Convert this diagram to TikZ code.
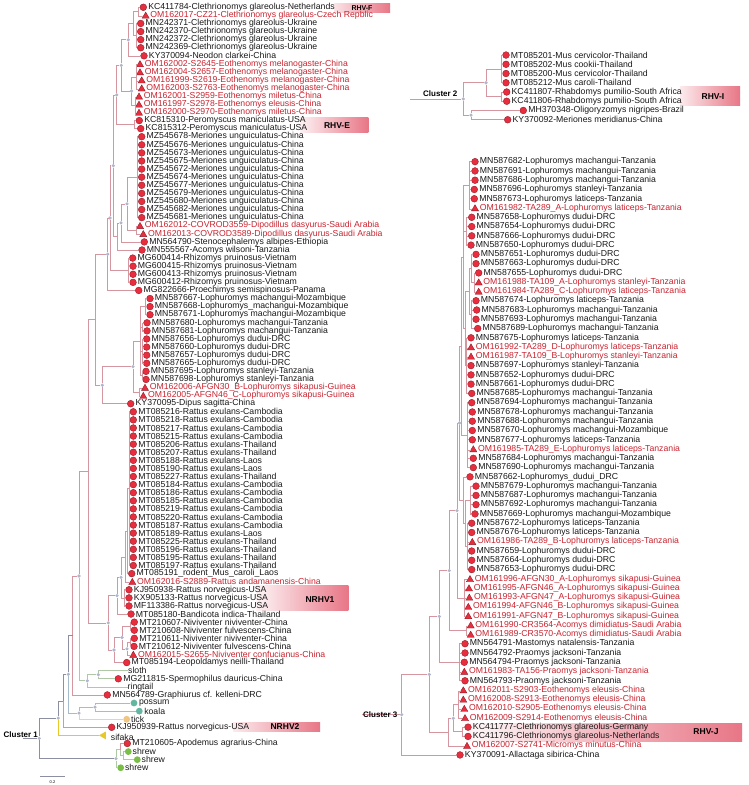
\documentclass[tikz,border=0pt]{standalone}
\usepackage{fontspec}
\setmainfont{Liberation Sans}
\usetikzlibrary{calc,shapes.geometric}
\definecolor{tipred}{RGB}{232,46,62}
\definecolor{tipedge}{RGB}{140,24,36}
\definecolor{newred}{RGB}{200,36,48}
\definecolor{brpink}{RGB}{214,150,160}
\definecolor{brgrey}{RGB}{140,142,162}
\definecolor{brblue}{RGB}{165,188,205}
\definecolor{brgreen}{RGB}{175,200,165}
\definecolor{brtan}{RGB}{238,210,165}
\definecolor{bryel}{RGB}{232,200,40}
\definecolor{dotgrey}{RGB}{178,182,205}
\definecolor{boxpink}{RGB}{232,118,134}
\definecolor{possumteal}{RGB}{100,182,160}
\definecolor{ticktan}{RGB}{240,196,130}
\definecolor{shrewgreen}{RGB}{122,190,72}
\def\rowstep{8.09}
\def\rowzero{-0.8}
% tips: name, x, row, label
\def\dtip#1#2#3#4{\node[reddot] (#1) at (#2,{\rowstep*#3+\rowzero}) {};
  \node[tiptext] (#1t) at ([xshift=1.2pt]#1.east) {#4};}
\def\ttip#1#2#3#4{\node[redtri] (#1) at (#2,{\rowstep*#3+\rowzero}) {};
  \node[tiptext,text=newred] (#1t) at ([xshift=2pt,yshift=0.8pt]#1.east) {#4};}
% inner node: style, name, x, first child, last child
\def\inode#1#2#3#4#5{\path let \p1=(#4), \p2=(#5) in node[#1] (#2) at (#3pt,{0.5*(\y1+\y2)}) {};}

\begin{document}
\begin{tikzpicture}[x=1pt,y=-1pt,
  reddot/.style={circle,draw=tipedge,fill=tipred,line width=0.35pt,inner sep=0pt,minimum size=6.8pt},
  redtri/.style={regular polygon,regular polygon sides=3,draw=tipedge,fill=tipred,line width=0.35pt,inner sep=0pt,minimum size=8.2pt,yshift=-0.8pt},
  otherdot/.style={circle,fill=#1,inner sep=0pt,minimum size=6.8pt},
  tiptext/.style={anchor=west,inner sep=0pt,text=black!90,font=\fontsize{8.7}{9}\selectfont},
  ndot/.style={circle,fill=dotgrey,inner sep=0pt,minimum size=3.6pt},
  pbr/.style={draw=brpink,line width=0.6pt},
  gbr/.style={draw=brgrey,line width=0.6pt},
  bbr/.style={draw=brblue,line width=0.6pt},
  grbr/.style={draw=brgreen,line width=0.6pt},
  hlab/.style={inner sep=0pt,font=\bfseries\fontsize{8.5}{9}\selectfont},
  clab/.style={anchor=base west,inner sep=0pt,font=\bfseries\fontsize{8}{9}\selectfont}]
\useasboundingbox (0,0) rectangle (748,785);

% highlighted groups
\shade[left color=boxpink!20,right color=boxpink] (334,3.5) rectangle (390,12.5);
\shade[left color=boxpink!10,right color=boxpink] (300,117.3) rectangle (368.3,132.7);
\shade[left color=boxpink!8,right color=boxpink] (256,585.7) rectangle (348.3,610);
\shade[left color=boxpink!15,right color=boxpink] (233,722.3) rectangle (320,731);
\shade[left color=boxpink!15,right color=boxpink] (680,86.7) rectangle (740,105.7);
\shade[left color=boxpink!5,right color=boxpink] (468,723) rectangle (742,741);
\node[hlab,font=\bfseries\fontsize{7}{8}\selectfont] (rhvf) at (362,8) {RHV-F};
\node[hlab] (rhve) at (337,125.5) {RHV-E};
\node[hlab] (nrhv1) at (320,599.5) {NRHV1};
\node[hlab] (nrhv2) at (285,727) {NRHV2};
\node[hlab] (rhvi) at (713,96.5) {RHV-I};
\node[hlab] (rhvj) at (706,732) {RHV-J};

% cluster 1
\dtip{l1}{143.3}{1}{KC411784-Clethrionomys glareolus-Netherlands}
\ttip{l2}{145.7}{2}{OM162017-CZ21-Clethrionomys glareolus-Czech Repblic}
\dtip{l3}{140.7}{3}{MN242371-Clethrionomys glareolus-Ukraine}
\dtip{l4}{140.7}{4}{MN242370-Clethrionomys glareolus-Ukraine}
\dtip{l5}{140.7}{5}{MN242372-Clethrionomys glareolus-Ukraine}
\dtip{l6}{140.7}{6}{MN242369-Clethrionomys glareolus-Ukraine}
\dtip{l7}{144}{7}{KY370094-Neodon clarkei-China}
\ttip{l8}{140}{8}{OM162002-S2645-Eothenomys melanogaster-China}
\ttip{l9}{140}{9}{OM162004-S2657-Eothenomys melanogaster-China}
\ttip{l10}{141.7}{10}{OM161999-S2619-Eothenomys melanogaster-China}
\ttip{l11}{141.7}{11}{OM162003-S2763-Eothenomys melanogaster-China}
\ttip{l12}{139}{12}{OM162001-S2959-Eothenomys miletus-China}
\ttip{l13}{139}{13}{OM161997-S2978-Eothenomys eleusis-China}
\ttip{l14}{139}{14}{OM162000-S2970-Eothenomys miletus-China}
\dtip{l15}{139.3}{15}{KC815310-Peromyscus maniculatus-USA}
\dtip{l16}{140.7}{16}{KC815312-Peromyscus maniculatus-USA}
\dtip{l17}{141.7}{17}{MZ545678-Meriones unguiculatus-China}
\dtip{l18}{141.7}{18}{MZ545676-Meriones unguiculatus-China}
\dtip{l19}{141.7}{19}{MZ545673-Meriones unguiculatus-China}
\dtip{l20}{141.7}{20}{MZ545675-Meriones unguiculatus-China}
\dtip{l21}{141.7}{21}{MZ545672-Meriones unguiculatus-China}
\dtip{l22}{141.7}{22}{MZ545674-Meriones unguiculatus-China}
\dtip{l23}{141.7}{23}{MZ545677-Meriones unguiculatus-China}
\dtip{l24}{141.7}{24}{MZ545679-Meriones unguiculatus-China}
\dtip{l25}{141.7}{25}{MZ545680-Meriones unguiculatus-China}
\dtip{l26}{141.7}{26}{MZ545682-Meriones unguiculatus-China}
\dtip{l27}{141.7}{27}{MZ545681-Meriones unguiculatus-China}
\ttip{l28}{140}{28}{OM162012-COVROD3559-Dipodillus dasyurus-Saudi Arabia}
\ttip{l29}{143.3}{29}{OM162013-COVROD3589-Dipodillus dasyurus-Saudi Arabia}
\dtip{l30}{144.3}{30}{MN564790-Stenocephalemys albipes-Ethiopia}
\dtip{l31}{142}{31}{MN555567-Acomys wilsoni-Tanzania}
\dtip{l32}{132.7}{32}{MG600414-Rhizomys pruinosus-Vietnam}
\dtip{l33}{133}{33}{MG600415-Rhizomys pruinosus-Vietnam}
\dtip{l34}{133}{34}{MG600413-Rhizomys pruinosus-Vietnam}
\dtip{l35}{133}{35}{MG600412-Rhizomys pruinosus-Vietnam}
\dtip{l36}{138.7}{36}{MG822666-Proechimys semispinosus-Panama}
\dtip{l37}{150}{37}{MN587667-Lophuromys machangui-Mozambique}
\dtip{l38}{150}{38}{MN587668-Lophuromys\_machangui-Mozambique}
\dtip{l39}{150}{39}{MN587671-Lophuromys machangui-Mozambique}
\dtip{l40}{147}{40}{MN587680-Lophuromys machangui-Tanzania}
\dtip{l41}{147}{41}{MN587681-Lophuromys machangui-Tanzania}
\dtip{l42}{146.7}{42}{MN587656-Lophuromys dudui-DRC}
\dtip{l43}{146.7}{43}{MN587660-Lophuromys dudui-DRC}
\dtip{l44}{146.7}{44}{MN587657-Lophuromys dudui-DRC}
\dtip{l45}{146.7}{45}{MN587665-Lophuromys dudui-DRC}
\dtip{l46}{146}{46}{MN587695-Lophuromys stanleyi-Tanzania}
\dtip{l47}{146}{47}{MN587698-Lophuromys stanleyi-Tanzania}
\ttip{l48}{145}{48}{OM162006-AFGN30\_B-Lophuromys sikapusi-Guinea}
\ttip{l49}{143.3}{49}{OM162005-AFGN46\_C-Lophuromys sikapusi-Guinea}
\dtip{l50}{130.7}{50}{KY370095-Dipus sagitta-China}
\dtip{l51}{133.3}{51}{MT085216-Rattus exulans-Cambodia}
\dtip{l52}{133.3}{52}{MT085218-Rattus exulans-Cambodia}
\dtip{l53}{133.3}{53}{MT085217-Rattus exulans-Cambodia}
\dtip{l54}{133.3}{54}{MT085215-Rattus exulans-Cambodia}
\dtip{l55}{133.3}{55}{MT085206-Rattus exulans-Thailand}
\dtip{l56}{133.3}{56}{MT085207-Rattus exulans-Thailand}
\dtip{l57}{133.3}{57}{MT085188-Rattus exulans-Laos}
\dtip{l58}{133.3}{58}{MT085190-Rattus exulans-Laos}
\dtip{l59}{133.3}{59}{MT085227-Rattus exulans-Thailand}
\dtip{l60}{133.3}{60}{MT085184-Rattus exulans-Cambodia}
\dtip{l61}{133.3}{61}{MT085186-Rattus exulans-Cambodia}
\dtip{l62}{133.3}{62}{MT085185-Rattus exulans-Cambodia}
\dtip{l63}{133.3}{63}{MT085219-Rattus exulans-Cambodia}
\dtip{l64}{133.3}{64}{MT085220-Rattus exulans-Cambodia}
\dtip{l65}{133.3}{65}{MT085187-Rattus exulans-Cambodia}
\dtip{l66}{133.3}{66}{MT085189-Rattus exulans-Laos}
\dtip{l67}{133.3}{67}{MT085225-Rattus exulans-Thailand}
\dtip{l68}{133.3}{68}{MT085196-Rattus exulans-Thailand}
\dtip{l69}{133.3}{69}{MT085195-Rattus exulans-Thailand}
\dtip{l70}{133.3}{70}{MT085197-Rattus exulans-Thailand}
\dtip{l71}{131.7}{71}{MT085191\_rodent\_Mus\_caroli\_Laos}
\ttip{l72}{132.3}{72}{OM162016-S2889-Rattus andamanensis-China}
\dtip{l73}{129}{73}{KJ950938-Rattus norvegicus-USA}
\dtip{l74}{129}{74}{KX905133-Rattus norvegicus-USA}
\dtip{l75}{129}{75}{MF113386-Rattus norvegicus-USA}
\dtip{l76}{131}{76}{MT085180-Bandicota indica-Thailand}
\dtip{l77}{134.3}{77}{MT210607-Niviventer niviventer-China}
\dtip{l78}{134.3}{78}{MT210608-Niviventer fulvescens-China}
\dtip{l79}{134.3}{79}{MT210611-Niviventer niviventer-China}
\dtip{l80}{134}{80}{MT210612-Niviventer fulvescens-China}
\ttip{l81}{133.3}{81}{OM162015-S2655-Niviventer confucianus-China}
\dtip{l82}{126.7}{82}{MT085194-Leopoldamys neilli-Thailand}
\coordinate (l83) at (128,{\rowstep*83+\rowzero});
\node[tiptext] (l83t) at (l83) {sloth};
\dtip{l84}{118.3}{84}{MG211815-Spermophilus dauricus-China}
\coordinate (l85) at (127.5,{\rowstep*85+\rowzero});
\node[tiptext] (l85t) at (l85) {ringtail};
\dtip{l86}{107.3}{86}{MN564789-Graphiurus cf. kelleni-DRC}
\node[otherdot=possumteal] (l87) at (134,{\rowstep*87+\rowzero}) {};
\node[tiptext] (l87t) at ([xshift=1.2pt]l87.east) {possum};
\node[otherdot=possumteal] (l88) at (139.3,{\rowstep*88+\rowzero}) {};
\node[tiptext] (l88t) at ([xshift=1.2pt]l88.east) {koala};
\node[otherdot=ticktan] (l89) at (126.7,{\rowstep*89+\rowzero}) {};
\node[tiptext] (l89t) at ([xshift=0.6pt]l89.east) {tick};
\dtip{l90}{111.7}{90}{KJ950939-Rattus norvegicus-USA}
\node[regular polygon,regular polygon sides=3,shape border rotate=90,fill=bryel,inner sep=0pt,minimum size=9pt] (l91) at (103.5,{\rowstep*91+\rowzero}) {};
\node[tiptext] (l91t) at (110.7,{\rowstep*91+\rowzero+2}) {sifaka};
\dtip{l92}{127.3}{92}{MT210605-Apodemus agrarius-China}
\node[otherdot=shrewgreen] (l93) at (128.3,{\rowstep*93+\rowzero}) {};
\node[tiptext] (l93t) at ([xshift=0.6pt]l93.east) {shrew};
\node[otherdot=shrewgreen] (l94) at (137.3,{\rowstep*94+\rowzero}) {};
\node[tiptext] (l94t) at ([xshift=0.6pt]l94.east) {shrew};
\node[otherdot=shrewgreen] (l95) at (120.7,{\rowstep*95+\rowzero}) {};
\node[tiptext] (l95t) at ([xshift=0.6pt]l95.east) {shrew};

\inode{coordinate}{a1}{138}{l1}{l2}
\inode{coordinate}{a2}{136}{l3}{l6}
\inode{coordinate}{a3}{133}{a1}{a2}
\inode{ndot}{a4}{128.3}{a3}{l7}
\inode{coordinate}{e1}{136}{l8}{l11}
\inode{coordinate}{e2}{135}{l12}{l14}
\inode{ndot}{e3}{131.5}{e1}{e2}
\inode{ndot}{b1}{121.3}{a4}{e3}
\inode{coordinate}{p1}{134.5}{l15}{l16}
\inode{ndot}{b2}{116.7}{b1}{p1}
\inode{coordinate}{m1}{137}{l17}{l27}
\inode{coordinate}{d1}{136}{l28}{l29}
\inode{ndot}{m2}{127}{m1}{d1}
\inode{ndot}{m3}{121}{m2}{l30}
\inode{coordinate}{m4}{117.7}{m3}{l31}
\inode{ndot}{c1}{113.3}{b2}{m4}
\inode{coordinate}{z1}{128.5}{l32}{l35}
\inode{ndot}{c2}{110}{c1}{z1}
\inode{ndot}{c3}{107.7}{c2}{l36}
\inode{coordinate}{f1}{145.5}{l37}{l39}
\inode{coordinate}{f2}{142.5}{l40}{l41}
\inode{coordinate}{f3}{142.5}{l42}{l45}
\inode{coordinate}{f4}{142}{l46}{l47}
\inode{coordinate}{f5}{140}{f1}{f4}
\inode{coordinate}{f6}{139}{l48}{l49}
\inode{ndot}{f7}{133}{f5}{f6}
\inode{ndot}{c4}{102.3}{f7}{l50}
\inode{coordinate}{c5}{95.7}{c3}{c4}
\inode{coordinate}{q1}{129}{l51}{l70}
\inode{coordinate}{q2}{127}{q1}{l71}
\inode{coordinate}{q3}{125}{q2}{l72}
\inode{coordinate}{q4}{124.5}{l73}{l75}
\inode{ndot}{q5}{121}{q3}{q4}
\inode{ndot}{q6}{117}{q5}{l76}
\inode{coordinate}{v1}{130}{l77}{l78}
\inode{coordinate}{v2}{130}{l79}{l80}
\inode{ndot}{v3}{127}{v2}{l81}
\inode{ndot}{v4}{122}{v1}{v3}
\inode{ndot}{v5}{114}{v4}{l82}
\inode{ndot}{q7}{108.3}{q6}{v5}
\inode{coordinate}{c6}{88}{c5}{q7}
\inode{ndot}{s1}{98.3}{l83}{l84}
\inode{ndot}{s2}{87.3}{s1}{l85}
\inode{ndot}{g0}{79}{c6}{s2}
\inode{coordinate}{gr}{72.7}{g0}{l86}
\inode{ndot}{t1}{95}{l87}{l88}
\inode{ndot}{t2}{79}{t1}{l89}
\inode{ndot}{g1}{68.3}{gr}{t2}
\inode{coordinate}{g2}{63.3}{g1}{l90}
\inode{ndot}{g3}{58.3}{g2}{l91}
\inode{coordinate}{h1}{123}{l93}{l94}
\inode{coordinate}{h2}{120}{l92}{h1}
\inode{ndot}{h3}{116}{h2}{l95}
\inode{ndot}{root1}{39.3}{g3}{h3}
\coordinate (stub1) at (root1 -| 23,0);

\draw[pbr] (a1) |- (l1) (a1) |- (l2) (a2) |- (l3) (a2) |- (l4) (a2) |- (l5) (a2) |- (l6)
  (a3) |- (a1) (a3) |- (a2) (a4) |- (a3) (a4) |- (l7);
\draw[pbr] (e1) |- (l8) (e1) |- (l9) (e1) |- (l10) (e1) |- (l11)
  (e2) |- (l12) (e2) |- (l13) (e2) |- (l14) (e3) |- (e1) (e3) |- (e2)
  (b1) |- (a4) (b1) |- (e3) (p1) |- (l15) (p1) |- (l16) (b2) |- (b1) (b2) |- (p1);
\draw[pbr] (m1) |- (l17) (m1) |- (l18) (m1) |- (l19) (m1) |- (l20) (m1) |- (l21) (m1) |- (l22)
  (m1) |- (l23) (m1) |- (l24) (m1) |- (l25) (m1) |- (l26) (m1) |- (l27)
  (d1) |- (l28) (d1) |- (l29) (m2) |- (m1) (m2) |- (d1) (m3) |- (m2) (m3) |- (l30)
  (m4) |- (m3) (m4) |- (l31) (c1) |- (b2) (c1) |- (m4);
\draw[pbr] (z1) |- (l32) (z1) |- (l33) (z1) |- (l34) (z1) |- (l35)
  (c2) |- (c1) (c2) |- (z1) (c3) |- (c2) (c3) |- (l36);
\draw[pbr] (f1) |- (l37) (f1) |- (l38) (f1) |- (l39) (f2) |- (l40) (f2) |- (l41)
  (f3) |- (l42) (f3) |- (l43) (f3) |- (l44) (f3) |- (l45) (f4) |- (l46) (f4) |- (l47)
  (f5) |- (f1) (f5) |- (f2) (f5) |- (f3) (f5) |- (f4) (f6) |- (l48) (f6) |- (l49)
  (f7) |- (f5) (f7) |- (f6) (c4) |- (f7) (c4) |- (l50) (c5) |- (c3) (c5) |- (c4);
\draw[pbr] (q1) |- (l51) (q1) |- (l52) (q1) |- (l53) (q1) |- (l54) (q1) |- (l55)
  (q1) |- (l56) (q1) |- (l57) (q1) |- (l58) (q1) |- (l59) (q1) |- (l60)
  (q1) |- (l61) (q1) |- (l62) (q1) |- (l63) (q1) |- (l64) (q1) |- (l65)
  (q1) |- (l66) (q1) |- (l67) (q1) |- (l68) (q1) |- (l69) (q1) |- (l70)
  (q2) |- (q1) (q2) |- (l71) (q3) |- (q2) (q3) |- (l72)
  (q4) |- (l73) (q4) |- (l74) (q4) |- (l75) (q5) |- (q3) (q5) |- (q4)
  (q6) |- (q5) (q6) |- (l76);
\draw[pbr] (v1) |- (l77) (v1) |- (l78) (v2) |- (l79) (v2) |- (l80) (v3) |- (v2) (v3) |- (l81)
  (v4) |- (v1) (v4) |- (v3) (v5) |- (v4) (v5) |- (l82) (q7) |- (q6) (q7) |- (v5)
  (c6) |- (c5) (c6) |- (q7) (g0) |- (c6) (gr) |- (g0) (gr) |- (l86) (g2) |- (l90) (h2) |- (l92);
\draw[grbr] (s1) |- (l83) (s1) |- (l84) (s2) |- (s1) (s2) |- (l85) (g0) |- (s2)
  (h1) |- (l93) (h1) |- (l94) (h2) |- (h1) (h3) |- (h2) (h3) |- (l95);
\draw[bbr] (t1) |- (l87) (t1) |- (l88) (t2) |- (t1) (g1) |- (t2);
\draw[draw=brtan,line width=0.6pt] (t2) |- (l89);
\draw[draw=bryel,line width=0.6pt] (g3) |- (l91);
\draw[gbr] (g1) |- (gr) (g2) |- (g1) (g3) |- (g2) (root1) |- (g3) (root1) |- (h3) (stub1) -- (root1);
\node[clab] (cl1) at (3.5,737) {Cluster 1};

% scale bar
\coordinate (sb1) at (40,776.7);
\coordinate (sb2) at (65,776.7);
\draw[brgrey,line width=0.5pt] (sb1) -- (sb2);
\node[inner sep=0pt,font=\fontsize{4}{4}\selectfont] (sbl) at (52.5,782.5) {0.2};

% cluster 2
\def\rowstep{9.24}
\def\rowzero{45.8}
\dtip{u1}{506}{1}{MT085201-Mus cervicolor-Thailand}
\dtip{u2}{506}{2}{MT085202-Mus cookii-Thailand}
\dtip{u3}{506}{3}{MT085200-Mus cervicolor-Thailand}
\dtip{u4}{506}{4}{MT085212-Mus caroli-Thailand}
\dtip{u5}{506.7}{5}{KC411807-Rhabdomys pumilio-South Africa}
\dtip{u6}{506.7}{6}{KC411806-Rhabdomys pumilio-South Africa}
\dtip{u7}{523.3}{7}{MH370348-Oligoryzomys nigripes-Brazil}
\dtip{u8}{507.7}{8}{KY370092-Meriones meridianus-China}
\inode{coordinate}{k1}{501.5}{u1}{u4}
\inode{coordinate}{k2}{501.5}{u5}{u6}
\inode{ndot}{k3}{486}{k1}{k2}
\inode{ndot}{k4}{471}{u7}{u8}
\inode{ndot}{k5}{463.3}{k3}{k4}
\coordinate (stub2) at (k5 -| 410,0);
\draw[pbr] (k1) |- (u1) (k1) |- (u2) (k1) |- (u3) (k1) |- (u4) (k2) |- (u5) (k2) |- (u6)
  (k3) |- (k1) (k3) |- (k2) (k4) |- (u7) (k4) |- (u8) (k5) |- (k3) (k5) |- (k4) (stub2) -- (k5);
\node[clab] (cl2) at (423,96) {Cluster 2};

% cluster 3
\def\rowstep{9.27}
\def\rowzero{152.4}
\dtip{r1}{475}{1}{MN587682-Lophuromys machangui-Tanzania}
\dtip{r2}{475}{2}{MN587691-Lophuromys machangui-Tanzania}
\dtip{r3}{475}{3}{MN587686-Lophuromys machangui-Tanzania}
\dtip{r4}{474.3}{4}{MN587696-Lophuromys stanleyi-Tanzania}
\dtip{r5}{474.3}{5}{MN587673-Lophuromys laticeps-Tanzania}
\ttip{r6}{475}{6}{OM161982-TA289\_A-Lophuromys laticeps-Tanzania}
\dtip{r7}{471.7}{7}{MN587658-Lophuromys dudui-DRC}
\dtip{r8}{471.7}{8}{MN587654-Lophuromys dudui-DRC}
\dtip{r9}{471.7}{9}{MN587666-Lophuromys dudui-DRC}
\dtip{r10}{471}{10}{MN587650-Lophuromys dudui-DRC}
\dtip{r11}{476}{11}{MN587651-Lophuromys dudui-DRC}
\dtip{r12}{476}{12}{MN587663-Lophuromys dudui-DRC}
\dtip{r13}{478.7}{13}{MN587655-Lophuromys dudui-DRC}
\ttip{r14}{478.7}{14}{OM161988-TA109\_A-Lophuromys stanleyi-Tanzania}
\ttip{r15}{478.7}{15}{OM161984-TA289\_C-Lophuromys laticeps-Tanzania}
\dtip{r16}{476}{16}{MN587674-Lophuromys laticeps-Tanzania}
\dtip{r17}{476.7}{17}{MN587683-Lophuromys machangui-Tanzania}
\dtip{r18}{476}{18}{MN587693-Lophuromys machangui-Tanzania}
\dtip{r19}{477.7}{19}{MN587689-Lophuromys machangui-Tanzania}
\dtip{r20}{471}{20}{MN587675-Lophuromys laticeps-Tanzania}
\ttip{r21}{471}{21}{OM161992-TA289\_D-Lophuromys laticeps-Tanzania}
\ttip{r22}{471}{22}{OM161987-TA109\_B-Lophuromys stanleyi-Tanzania}
\dtip{r23}{471}{23}{MN587697-Lophuromys stanleyi-Tanzania}
\dtip{r24}{471}{24}{MN587652-Lophuromys dudui-DRC}
\dtip{r25}{471}{25}{MN587661-Lophuromys dudui-DRC}
\dtip{r26}{471.7}{26}{MN587685-Lophuromys machangui-Tanzania}
\dtip{r27}{471.7}{27}{MN587694-Lophuromys machangui-Tanzania}
\dtip{r28}{472.3}{28}{MN587678-Lophuromys machangui-Tanzania}
\dtip{r29}{472.3}{29}{MN587688-Lophuromys machangui-Tanzania}
\dtip{r30}{472.3}{30}{MN587670-Lophuromys machangui-Mozambique}
\dtip{r31}{472.3}{31}{MN587677-Lophuromys laticeps-Tanzania}
\ttip{r32}{473.3}{32}{OM161985-TA289\_E-Lophuromys laticeps-Tanzania}
\dtip{r33}{473.3}{33}{MN587684-Lophuromys machangui-Tanzania}
\dtip{r34}{473.3}{34}{MN587690-Lophuromys machangui-Tanzania}
\dtip{r35}{470}{35}{MN587662-Lophuromys\_dudui\_DRC}
\dtip{r36}{476}{36}{MN587679-Lophuromys machangui-Tanzania}
\dtip{r37}{476}{37}{MN587687-Lophuromys machangui-Tanzania}
\dtip{r38}{476}{38}{MN587692-Lophuromys machangui-Tanzania}
\dtip{r39}{475}{39}{MN587669-Lophuromys machangui-Mozambique}
\dtip{r40}{471.7}{40}{MN587672-Lophuromys laticeps-Tanzania}
\dtip{r41}{471.7}{41}{MN587676-Lophuromys laticeps-Tanzania}
\ttip{r42}{472.3}{42}{OM161986-TA289\_B-Lophuromys laticeps-Tanzania}
\dtip{r43}{471.7}{43}{MN587659-Lophuromys dudui-DRC}
\dtip{r44}{471.7}{44}{MN587664-Lophuromys dudui-DRC}
\dtip{r45}{471.7}{45}{MN587653-Lophuromys dudui-DRC}
\ttip{r46}{470}{46}{OM161996-AFGN30\_A-Lophuromys sikapusi-Guinea}
\ttip{r47}{469}{47}{OM161995-AFGN46\_A-Lophuromys sikapusi-Guinea}
\ttip{r48}{469.3}{48}{OM161993-AFGN47\_A-Lophuromys sikapusi-Guinea}
\ttip{r49}{468.3}{49}{OM161994-AFGN46\_B-Lophuromys sikapusi-Guinea}
\ttip{r50}{468.3}{50}{OM161991-AFGN47\_B-Lophuromys sikapusi-Guinea}
\ttip{r51}{470.7}{51}{OM161990-CR3564-Acomys dimidiatus-Saudi Arabia}
\ttip{r52}{470.7}{52}{OM161989-CR3570-Acomys dimidiatus-Saudi Arabia}
\dtip{r53}{465}{53}{MN564791-Mastomys natalensis-Tanzania}
\dtip{r54}{465}{54}{MN564792-Praomys jacksoni-Tanzania}
\dtip{r55}{464.3}{55}{MN564794-Praomys jacksoni-Tanzania}
\ttip{r56}{464.3}{56}{OM161983-TA156-Praomys jacksoni-Tanzania}
\dtip{r57}{465}{57}{MN564793-Praomys jacksoni-Tanzania}
\ttip{r58}{463.3}{58}{OM162011-S2903-Eothenomys eleusis-China}
\ttip{r59}{463.3}{59}{OM162008-S2913-Eothenomys eleusis-China}
\ttip{r60}{464.3}{60}{OM162010-S2905-Eothenomys eleusis-China}
\ttip{r61}{465}{61}{OM162009-S2914-Eothenomys eleusis-China}
\dtip{r62}{468}{62}{KC411777-Clethrionomys glareolus-Germany}
\dtip{r63}{468}{63}{KC411796-Clethrionomys glareolus-Netherlands}
\ttip{r64}{467}{64}{OM162007-S2741-Micromys minutus-China}
\dtip{r65}{460}{65}{KY370091-Allactaga sibirica-China}

\inode{coordinate}{j1}{469.5}{r1}{r6}
\inode{coordinate}{j2}{466.5}{r7}{r10}
\inode{coordinate}{j3}{474}{r13}{r15}
\inode{coordinate}{j4}{471.5}{r11}{j3}
\inode{coordinate}{j5}{471.5}{r16}{r19}
\inode{coordinate}{j6}{469}{j4}{j5}
\inode{coordinate}{j7}{466.5}{r20}{r26}
\inode{coordinate}{j8}{465}{j6}{j7}
\inode{coordinate}{j9}{463.5}{j1}{j8}
\inode{coordinate}{j10}{467}{r27}{r34}
\inode{coordinate}{j11}{461.5}{j9}{j10}
\inode{coordinate}{j12}{470}{r36}{r39}
\inode{coordinate}{j13}{467}{r40}{r45}
\inode{coordinate}{j14}{465}{j12}{j13}
\inode{coordinate}{j15}{463}{r35}{j14}
\inode{ndot}{j16}{459.5}{j11}{j15}
\inode{coordinate}{j17}{464}{r46}{r50}
\inode{ndot}{j18}{457}{j16}{j17}
\inode{coordinate}{j19}{466}{r51}{r52}
\inode{ndot}{j20}{449.3}{j18}{j19}
\inode{coordinate}{j21}{459.5}{r53}{r57}
\inode{ndot}{j22}{439.3}{j20}{j21}
\inode{coordinate}{j23}{458.5}{r58}{r61}
\inode{coordinate}{j24}{462}{r62}{r63}
\inode{ndot}{j25}{453.3}{j23}{j24}
\inode{coordinate}{j26}{448}{j25}{r64}
\inode{ndot}{j27}{429.3}{j22}{j26}
\inode{ndot}{root3}{401.7}{j27}{r65}
\coordinate (stub3) at (root3 -| 362,0);

\draw[pbr] (j1) |- (r1) (j1) |- (r2) (j1) |- (r3) (j1) |- (r4) (j1) |- (r5) (j1) |- (r6)
  (j2) |- (r7) (j2) |- (r8) (j2) |- (r9) (j2) |- (r10)
  (j3) |- (r13) (j3) |- (r14) (j3) |- (r15) (j4) |- (r11) (j4) |- (r12) (j4) |- (j3)
  (j5) |- (r16) (j5) |- (r17) (j5) |- (r18) (j5) |- (r19) (j6) |- (j4) (j6) |- (j5);
\draw[pbr] (j7) |- (r20) (j7) |- (r21) (j7) |- (r22) (j7) |- (r23) (j7) |- (r24) (j7) |- (r25) (j7) |- (r26)
  (j8) |- (j6) (j8) |- (j7) (j9) |- (j1) (j9) |- (j2) (j9) |- (j8)
  (j10) |- (r27) (j10) |- (r28) (j10) |- (r29) (j10) |- (r30) (j10) |- (r31) (j10) |- (r32)
  (j10) |- (r33) (j10) |- (r34) (j11) |- (j9) (j11) |- (j10);
\draw[pbr] (j12) |- (r36) (j12) |- (r37) (j12) |- (r38) (j12) |- (r39)
  (j13) |- (r40) (j13) |- (r41) (j13) |- (r42) (j13) |- (r43) (j13) |- (r44) (j13) |- (r45)
  (j14) |- (j12) (j14) |- (j13) (j15) |- (r35) (j15) |- (j14) (j16) |- (j11) (j16) |- (j15)
  (j17) |- (r46) (j17) |- (r47) (j17) |- (r48) (j17) |- (r49) (j17) |- (r50)
  (j18) |- (j16) (j18) |- (j17) (j19) |- (r51) (j19) |- (r52) (j20) |- (j18) (j20) |- (j19);
\draw[pbr] (j21) |- (r53) (j21) |- (r54) (j21) |- (r55) (j21) |- (r56) (j21) |- (r57)
  (j22) |- (j20) (j22) |- (j21)
  (j23) |- (r58) (j23) |- (r59) (j23) |- (r60) (j23) |- (r61) (j24) |- (r62) (j24) |- (r63)
  (j25) |- (j23) (j25) |- (j24) (j26) |- (j25) (j26) |- (r64)
  (j27) |- (j22) (j27) |- (j26) (root3) |- (j27) (root3) |- (r65) (stub3) -- (root3);
\node[clab] (cl3) at (363,717) {Cluster 3};
\end{tikzpicture}
\end{document}
